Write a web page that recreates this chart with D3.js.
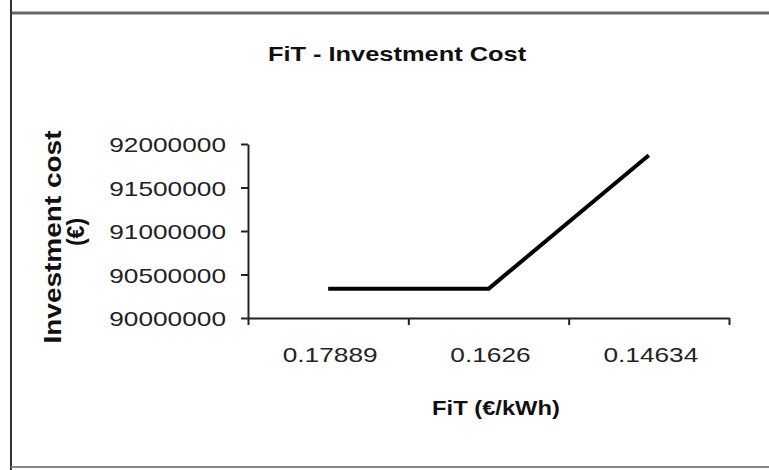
<!DOCTYPE html>
<html>
<head>
<meta charset="utf-8">
<script src="https://cdn.jsdelivr.net/npm/d3@7"></script>
<style>
  html, body { margin: 0; padding: 0; background: #fff; }
  svg { display: block; font-family: "Liberation Sans", Arial, sans-serif; }
</style>
</head>
<body>
<div id="chart"></div>
<script>
const categories = ["0.17889", "0.1626", "0.14634"];
const investment = [90335000, 90335000, 91870000];
const yTicks = [90000000, 90500000, 91000000, 91500000, 92000000];

const width = 769, height = 470;
const m = { t: 144, r: 40, b: 152, l: 248 };
const SX = 1.25; // glyphs in the source are stretched sideways

const svg = d3.select("#chart")
  .append("svg")
  .attr("width", width)
  .attr("height", height)
  .attr("viewBox", `0 0 ${width} ${height}`);

// outer frame (only top, left and bottom edges are visible)
svg.append("line")
  .attr("x1", 11).attr("x2", width).attr("y1", 13).attr("y2", 13)
  .attr("stroke", "#666").attr("stroke-width", 3);
svg.append("line")
  .attr("x1", 11).attr("x2", 11).attr("y1", 0).attr("y2", height)
  .attr("stroke", "#333").attr("stroke-width", 2);
svg.append("line")
  .attr("x1", 11).attr("x2", width).attr("y1", 467).attr("y2", 467)
  .attr("stroke", "#888").attr("stroke-width", 2);

const x = d3.scaleBand()
  .domain(categories)
  .range([m.l, width - m.r])
  .padding(0);

const xEdge = d3.scaleLinear()
  .domain([0, categories.length])
  .range([m.l, width - m.r]);

const y = d3.scaleLinear()
  .domain([90000000, 92000000])
  .range([height - m.b - 0, m.t]);
y.range([318, 144]);

// y axis
const gy = svg.append("g")
  .attr("transform", `translate(${m.l},0)`)
  .call(d3.axisLeft(y).tickValues(yTicks).tickFormat(d3.format("d")).tickSize(7).tickSizeOuter(0));
gy.select(".domain").attr("stroke", "#222").attr("stroke-width", 2);
gy.selectAll(".tick line").attr("stroke", "#222").attr("stroke-width", 2);
gy.selectAll(".tick text")
  .attr("font-size", 21)
  .attr("fill", "#222")
  .attr("transform", `scale(${SX},1)`)
  .attr("x", -22 / SX)
  .attr("dy", "0.36em");

// x axis: ticks between categories, labels at category centres
const gx = svg.append("g")
  .attr("transform", `translate(0,${y(90000000)})`)
  .call(d3.axisBottom(xEdge).ticks(categories.length).tickFormat("").tickSize(7).tickSizeOuter(0));
gx.select(".domain").attr("stroke", "#222").attr("stroke-width", 2);
gx.selectAll(".tick line").attr("stroke", "#222").attr("stroke-width", 2);

svg.append("g")
  .selectAll("text")
  .data(categories)
  .enter()
  .append("text")
  .attr("transform", d => `translate(${x(d) + x.bandwidth() / 2 + 2},362) scale(${SX},1)`)
  .attr("text-anchor", "middle")
  .attr("font-size", 21)
  .attr("fill", "#222")
  .text(d => d);

// data line
const lineGen = d3.line()
  .x((d, i) => x(categories[i]) + x.bandwidth() / 2)
  .y(d => y(d));

svg.append("path")
  .datum(investment)
  .attr("fill", "none")
  .attr("stroke", "#000")
  .attr("stroke-width", 4)
  .attr("stroke-linejoin", "round")
  .attr("d", lineGen);

// titles
svg.append("text")
  .attr("transform", `translate(397,61) scale(1.21,1)`)
  .attr("text-anchor", "middle")
  .attr("font-size", 21)
  .attr("font-weight", "bold")
  .attr("fill", "#111")
  .text("FiT - Investment Cost");

svg.append("text")
  .attr("transform", `translate(496,415) scale(1.13,1)`)
  .attr("text-anchor", "middle")
  .attr("font-size", 21)
  .attr("font-weight", "bold")
  .attr("fill", "#111")
  .text("FiT (€/kWh)");

svg.append("text")
  .attr("transform", "translate(61,237) rotate(-90)")
  .attr("text-anchor", "middle")
  .attr("font-size", 23)
  .attr("font-weight", "bold")
  .attr("fill", "#111")
  .attr("textLength", 213)
  .attr("lengthAdjust", "spacingAndGlyphs")
  .text("Investment cost");

svg.append("text")
  .attr("transform", "translate(84,232) rotate(-90)")
  .attr("text-anchor", "middle")
  .attr("font-size", 23)
  .attr("font-weight", "bold")
  .attr("fill", "#111")
  .text("(€)");
</script>
</body>
</html>
